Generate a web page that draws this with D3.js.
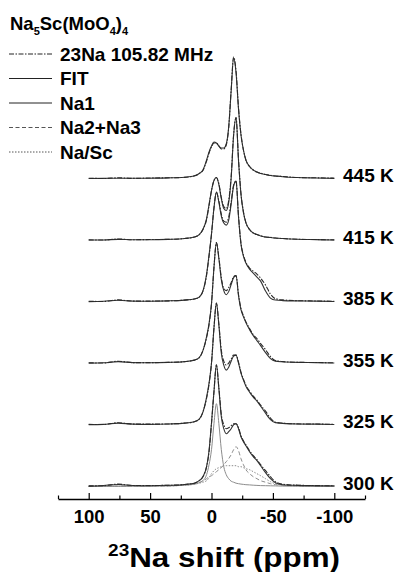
<!DOCTYPE html>
<html>
<head>
<meta charset="utf-8">
<script src="https://cdn.jsdelivr.net/npm/d3@7"></script>
<style>
  body { margin: 0; background: #fff; }
  text { font-family: Arial, "Liberation Sans", sans-serif; font-weight: bold; fill: #000; }
</style>
</head>
<body>
<svg id="chart" width="398" height="572"></svg>
<script>
// chemical shift grid (ppm), shared by all spectra
const ppm = [100, 88, 76, 64, 50, 35, 22, 14, 10, 7, 4, 2, 0, -2, -4, -6, -8, -10, -12, -14,
  -16, -18, -20, -22, -24, -26, -28, -31, -34, -37, -40, -44, -48, -52, -58, -70, -85, -100];

const temps = ['445 K', '415 K', '385 K', '355 K', '325 K', '300 K'];

const exp445 = [0.8,0.5,1.2,0.6,1,1.2,1.6,3.2,5.5,8.5, 18,26,32,36,36,33,30,30,34,51, 89,122,108,71,45,29,19,12.5,9,7, 5.8,4.5,3.8,3,2.5,1.5,1.2,0.8];
const fit445 = [0.5,0.6,0.8,0.7,0.8,1.1,1.8,3,5.5,9, 19,27,33,37,36,33,31,31,35,52, 88,121,106,70,44,29,19,12.5,9,7, 5.5,4.5,3.5,3,2.3,1.5,1,0.6];
const exp415 = [0.7,0.5,1.5,0.8,1,1.2,2,3.5,6,11, 21,35,50,60,63,57,43,34,32,40, 64,106,123,81,47,29,18,11,7.5,6, 4.8,3.5,3.2,2.5,2,1.3,1,0.7];
const fit415 = [0.5,0.6,1.2,0.8,0.8,1.2,2,3.5,6,11, 22,36,50,60,63,56,42,32,30,38, 62,105,123,80,46,28,18,11,7.5,6, 4.5,3.5,3,2.5,2,1.3,0.9,0.5];
const exp385 = [0.8,0.6,2.2,1,1,1.2,2,3,5,11, 27,46,68,94,110,101,88,81,80,85, 100,117,121,86,59,47,40,34,31,28, 24,17,8,3.5,2.2,1.4,1.1,0.8];
const fit385 = [0.5,0.8,1.8,1,0.8,1.2,2,3,5,11, 28,47,68,94,110,100,86,79,77,82, 98,116,121,85,58,46,39,33,29,25, 21,11,4,2,1.5,1.2,1,0.6];
const exp355 = [0.8,0.6,2.4,1,1,1.2,2,3.5,6,13, 26,39,60,96,121,106,86,75,73,76, 81,87,88,69,55,48,42,35,29,25, 20,14,7,3,2,1.3,1.1,0.8];
const fit355 = [0.5,0.8,2,1,0.8,1.2,2,3.5,6,13, 27,40,60,96,121,105,84,73,69,72, 79,86,88,68,54,47,41,34,28,23, 18,11,5,2.5,1.8,1.2,1,0.6];
const exp325 = [0.8,0.6,2.4,1,1,1.2,2,3.5,6,13, 27,41,62,97,122,101,75,64,60,62, 66,70,70,63,53,46,40,34,29,25, 20,14,7,3,2,1.3,1.1,0.8];
const fit325 = [0.5,0.8,2,1,0.8,1.2,2,3.5,6,13, 28,42,62,97,122,100,72,60,55,58, 64,69,70,62,52,45,39,33,28,24, 19,12,5.5,2.5,1.8,1.2,1,0.6];
const exp300 = [0.8,1,2.6,1.2,1.2,1.4,2.2,3.5,6,10, 20,35,63,95,122,99,72,62,58,59, 61,63,63,59,51,46,42,36,31,27, 22,16,10,5,2.5,1.5,1.1,0.9];
const fit300 = [0.6,1.2,2.2,1.2,1,1.4,2.2,3.5,6,10, 20,36,64,95,122,98,70,58,53,55, 58,62,63,58,50,45,41,35,30,26, 21,14,8,4,2,1.3,1,0.8];

// 300 K fit components
const na1   = [0.3,0.3,0.4,0.4,0.5,0.8,1.5,2.5,4,6, 12,22,37,63,83,63,37,20,12,8, 5.5,4.5,3.5,3,2.6,2.3,2,1.8,1.5,1.3, 1.1,1,0.9,0.8,0.6,0.5,0.4,0.3];
const na23  = [0.2,0.3,0.5,0.5,0.6,0.8,2,3,4,6, 8,10,11,13,15,17,19,22,25,28, 32,37,40,36,28,22,17,13,10,8, 6,4.5,3,2,1.5,1,0.6,0.3];
const naSc  = [0.2,0.3,0.4,0.5,0.6,0.8,1.5,2.5,3.5,4.5, 6,9,13,16,18,19,20,21,21,21, 21,21,21,20,20,19,18,17,15,13, 11,8,5,3,1.5,0.8,0.5,0.3];

const xTicks = [100, 50, 0, -50, -100];
const xMinor = [125, 75, 25, -25, -75, -125];

const legendItems = ['23Na 105.82 MHz', 'FIT', 'Na1', 'Na2+Na3', 'Na/Sc'];

// build series table
const spectra = [
  {t: '445 K', exp: exp445, fit: fit445},
  {t: '415 K', exp: exp415, fit: fit415},
  {t: '385 K', exp: exp385, fit: fit385},
  {t: '355 K', exp: exp355, fit: fit355},
  {t: '325 K', exp: exp325, fit: fit325},
  {t: '300 K', exp: exp300, fit: fit300}
];
const components = [
  {t: '300 K', vals: na1, key: 'Na1'},
  {t: '300 K', vals: na23, key: 'Na2+Na3'},
  {t: '300 K', vals: naSc, key: 'Na/Sc'}
];

const styles = {
  exp:      {stroke: '#2a2a2a', dash: '5,1.5,1.5,1.5', w: 1.1},
  fit:      {stroke: '#333', dash: null, w: 1.1},
  'Na1':    {stroke: '#8c8c8c', dash: null, w: 1},
  'Na2+Na3':{stroke: '#8c8c8c', dash: '4,2.5', w: 1},
  'Na/Sc':  {stroke: '#8c8c8c', dash: '1.5,1.5', w: 1}
};

const svg = d3.select('#chart');
svg.append('rect').attr('width', 398).attr('height', 572).attr('fill', '#fff');

const x = d3.scaleLinear().domain([125, -125]).range([58, 365]);
const yBase = d3.scalePoint().domain(temps).range([179, 486.7]);
const yInt = d3.scaleLinear().domain([0, 100]).range([0, -100]);

const line = d3.line()
  .x((d, i) => x(ppm[i]))
  .y(d => yInt(d))
  .curve(d3.curveMonotoneX);

const plot = svg.append('g').attr('class', 'plot');

// components first so dark lines sit on top
components.forEach(c => {
  let s = styles[c.key];
  plot.append('path')
    .attr('transform', 'translate(0,' + yBase(c.t) + ')')
    .attr('d', line(c.vals))
    .attr('fill', 'none').attr('stroke', s.stroke).attr('stroke-width', s.w)
    .attr('stroke-dasharray', s.dash);
});

spectra.forEach(sp => {
  let g = plot.append('g').attr('transform', 'translate(0,' + yBase(sp.t) + ')');
  g.append('path').attr('d', line(sp.fit))
    .attr('fill', 'none').attr('stroke', styles.fit.stroke).attr('stroke-width', styles.fit.w);
  g.append('path').attr('d', line(sp.exp))
    .attr('fill', 'none').attr('stroke', styles.exp.stroke).attr('stroke-width', styles.exp.w)
    .attr('stroke-dasharray', styles.exp.dash);
});

// temperature labels
svg.selectAll('text.temp').data(temps).enter().append('text').attr('class', 'temp')
  .attr('x', 343).attr('y', d => yBase(d) + 3)
  .style('font-size', '19px').text(d => d);

// x axis
const axisY = 499;
const axisG = svg.append('g').attr('transform', 'translate(0,' + axisY + ')');
axisG.call(d3.axisBottom(x).tickValues(xTicks).tickSizeInner(-6).tickSizeOuter(0)
  .tickPadding(11).tickFormat(d => String(d)));
axisG.select('.domain').attr('stroke', '#000').attr('stroke-width', 1.4);
axisG.selectAll('.tick line').attr('stroke', '#000').attr('stroke-width', 1.2);
axisG.selectAll('.tick text').style('font-size', '18.5px')
  .style('font-family', 'Arial, "Liberation Sans", sans-serif').style('font-weight', 'bold');

const minorG = svg.append('g').attr('transform', 'translate(0,' + axisY + ')');
minorG.call(d3.axisBottom(x).tickValues(xMinor).tickSizeInner(-3.5).tickSizeOuter(0).tickFormat(''));
minorG.select('.domain').remove();
minorG.selectAll('.tick line').attr('stroke', '#000').attr('stroke-width', 1.2);

// axis title, slightly stretched like the original
const title = svg.append('text').attr('transform', 'translate(224,567) scale(1.12,1)')
  .attr('text-anchor', 'middle').style('font-size', '28px');
title.append('tspan').style('font-size', '17px').attr('dy', -11).text('23');
title.append('tspan').attr('dy', 11).text('Na shift (ppm)');

// legend title Na5Sc(MoO4)4
const lt = svg.append('text').attr('x', 10).attr('y', 30).style('font-size', '18.5px');
lt.append('tspan').text('Na');
lt.append('tspan').style('font-size', '11px').attr('dy', 5).text('5');
lt.append('tspan').attr('dy', -5).text('Sc(MoO');
lt.append('tspan').style('font-size', '11px').attr('dy', 5).text('4');
lt.append('tspan').attr('dy', -5).text(')');
lt.append('tspan').style('font-size', '11px').attr('dy', 5).text('4');

const legendKeys = ['exp', 'fit', 'Na1', 'Na2+Na3', 'Na/Sc'];
const legendY = d3.scaleLinear().domain([0, 4]).range([54, 152]);
const lg = svg.append('g').attr('class', 'legend');
legendItems.forEach((label, i) => {
  let s = styles[legendKeys[i]];
  let yy = legendY(i);
  lg.append('line').attr('x1', 9).attr('x2', 52).attr('y1', yy).attr('y2', yy)
    .attr('stroke', i < 3 ? '#222' : '#555').attr('stroke-width', 1)
    .attr('stroke-dasharray', s.dash);
  lg.append('text').attr('x', 60).attr('y', yy + 6.5).style('font-size', '19px').text(label);
});
</script>
</body>
</html>
